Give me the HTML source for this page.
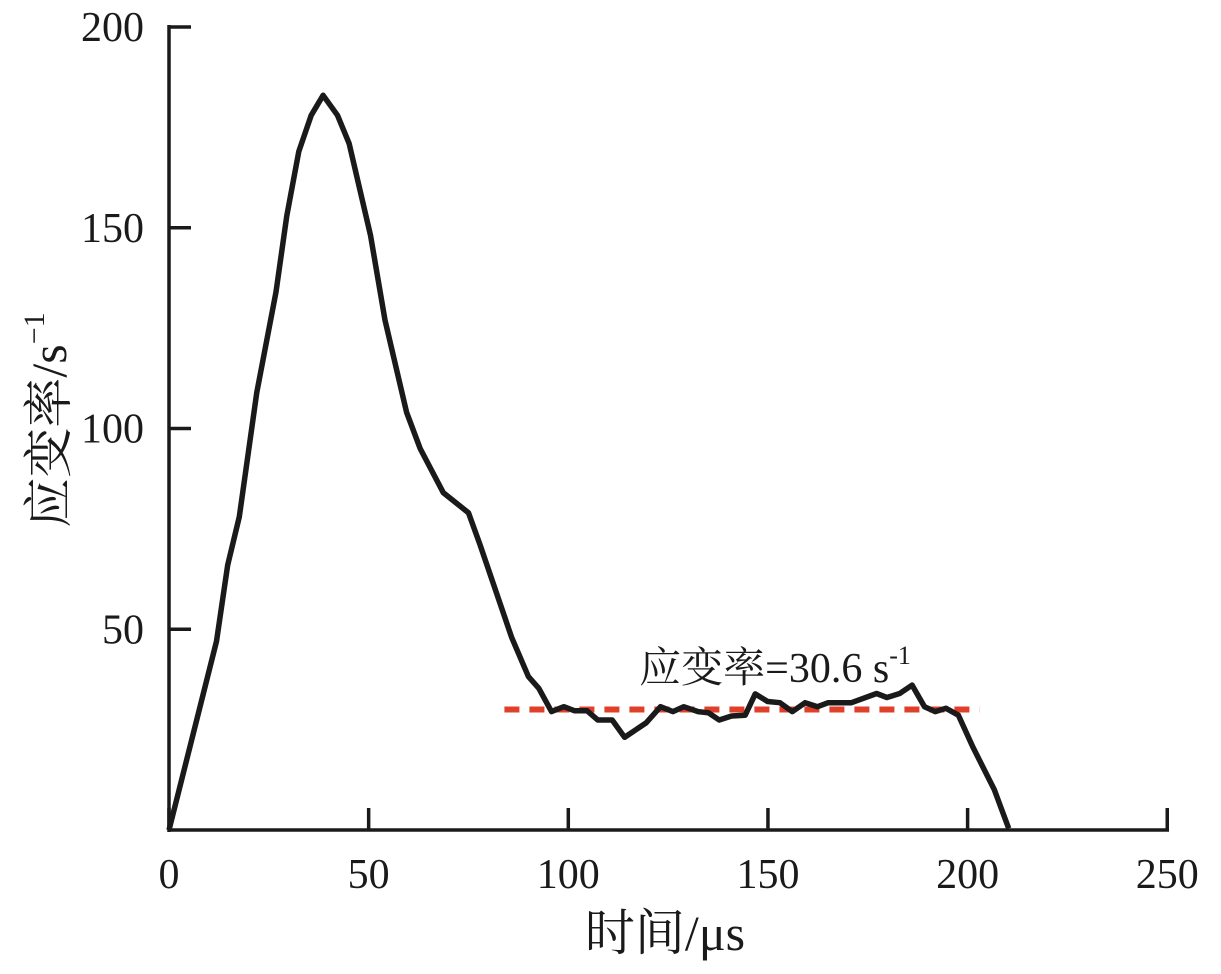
<!DOCTYPE html>
<html><head><meta charset="utf-8"><style>
body{margin:0;background:#fff;}
svg{display:block;font-family:"Liberation Serif","Noto Serif CJK SC",serif;}
</style></head><body>
<svg id="chart" width="1221" height="974" viewBox="0 0 1221 974" xmlns="http://www.w3.org/2000/svg">
<g id="axes"></g>
<g id="plot"></g>
<text x="775" y="682" text-anchor="middle" font-size="42" fill="#1a1a1a">应变率=30.6 s<tspan font-size="26" dy="-18">-1</tspan></text>
<text x="665" y="950" text-anchor="middle" font-size="50" fill="#1a1a1a">时间/μs</text>
<text transform="translate(66,420) rotate(-90)" text-anchor="middle" font-size="50" fill="#1a1a1a">应变率/s<tspan font-size="30" dy="-22">−1</tspan></text>
</svg>
<script>
const timeValues=[0,11.9,14.7,17.6,22,26.8,29.5,32.5,35.6,38.6,42.2,45.1,50.5,54.1,59.5,62.9,68.7,75,77.9,85.8,90,92.6,95.8,98.9,101.6,104.7,107.4,111,114.1,119.5,123.1,126.2,128.9,132.5,135.1,137.8,140.9,144.3,146.8,149.9,153,156.1,159.3,162.4,165.1,170.9,177.2,179.8,183,186.1,189.2,191.9,194.6,197.7,201.3,206.7,210.3];
const strainRateValues=[0,47,66,78,109,134,153,169,178,183,178,171,148,127,104,95,84,79,71,48,38.2,35.3,29.5,30.7,29.7,29.7,27.4,27.4,23.1,26.7,30.7,29.5,30.7,29.5,29.2,27.4,28.4,28.6,33.9,32,31.7,29.5,31.7,30.7,31.7,31.7,34,33,34,36.1,30.7,29.5,30.3,28.6,20.7,10,0.4];
const avgLine=[84,203];
const avgValue=30;
const xTicks=[0,50,100,150,200,250];
const yTicks=[50,100,150,200];
const NS="http://www.w3.org/2000/svg";
function xs(v){return 169+v*3.993;}
function ys(v){return 830-v*4.015;}
function mk(tag,attrs,parent){const e=document.createElementNS(NS,tag);for(const k in attrs)e.setAttribute(k,attrs[k]);parent.appendChild(e);return e;}
const axes=document.getElementById('axes');
const plot=document.getElementById('plot');
let a=mk('line',{x1:169,y1:830,x2:1169,y2:830,stroke:'#1a1a1a','stroke-width':3.5},axes);


a=mk('line',{x1:169,y1:832,x2:169,y2:25,stroke:'#1a1a1a','stroke-width':3.5},axes);


xTicks.forEach(t=>{
 const l=mk('line',{x1:xs(t),y1:830,x2:xs(t),y2:808,stroke:'#1a1a1a','stroke-width':3.5},axes);
 
 
 const tx=mk('text',{x:xs(t),y:888,'text-anchor':'middle','font-size':42,fill:'#1a1a1a'},axes);
 tx.textContent=t;
 
 
});
yTicks.forEach(t=>{
 const l=mk('line',{x1:169,y1:ys(t),x2:191,y2:ys(t),stroke:'#1a1a1a','stroke-width':3.5},axes);
 
 
 const tx=mk('text',{x:144,y:ys(t)+14,'text-anchor':'end','font-size':42,fill:'#1a1a1a'},axes);
 tx.textContent=t;
 
 
});
const d=mk('line',{x1:xs(avgLine[0]),x2:xs(avgLine[1]),y1:ys(avgValue),y2:ys(avgValue),stroke:'#e0402a','stroke-width':6,'stroke-dasharray':'15 10'},plot);


const pts=timeValues.map((t,i)=>xs(t).toFixed(1)+','+ys(strainRateValues[i]).toFixed(1)).join(' ');
const p=mk('polyline',{points:pts,fill:'none',stroke:'#1a1a1a','stroke-width':5.5,'stroke-linejoin':'round'},plot);


</script>
</body></html>
